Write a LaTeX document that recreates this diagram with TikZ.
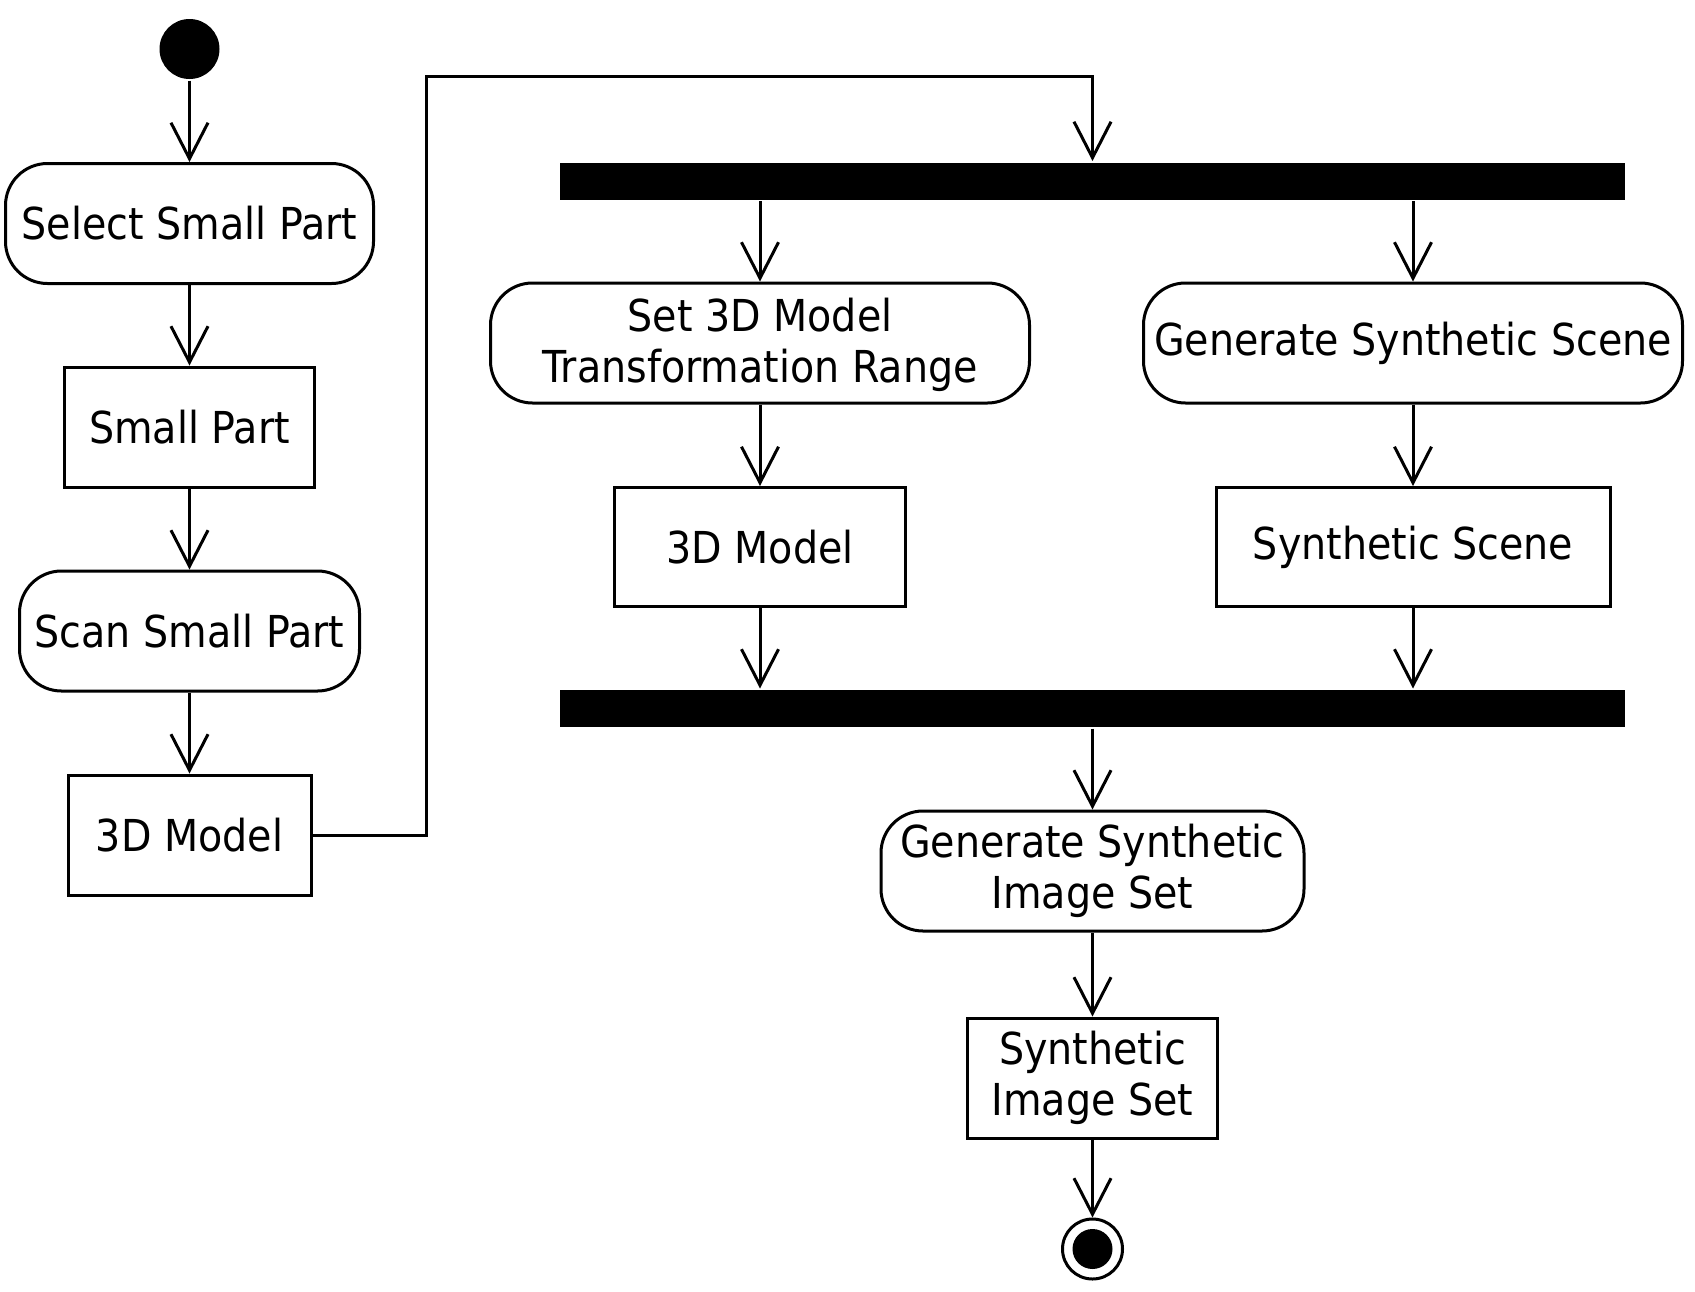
\documentclass[tikz,border=0pt]{standalone}
\usepackage{fontspec}
\setmainfont{DejaVu Sans}[FakeStretch=0.9]
\usetikzlibrary{arrows.meta,positioning}
\begin{document}
\begin{tikzpicture}[x=1pt,y=-1pt,
  line width=3pt,
  every node/.style={inner sep=0pt, font=\fontsize{44}{51}\selectfont, align=center},
  action/.style={draw, rounded corners=42pt, minimum height=120pt},
  objbox/.style={draw, rectangle, minimum height=120pt},
  bar/.style={fill=black, rectangle, minimum height=37pt, minimum width=1065pt},
  flow/.style={-{Straight Barb[length=36pt,width=37pt,line width=3pt]}}
]
\useasboundingbox (0,0) rectangle (1695,1291);
% nodes
\node[circle, fill=black, minimum size=60pt] (start) at (189.5,49) {};
\node[action, minimum width=368pt] (sel) at (189.5,223.5) {Select Small Part};
\node[objbox, minimum width=250pt] (sp) at (189.5,427) {Small Part};
\node[action, minimum width=340pt] (scan) at (189.5,631) {Scan Small Part};
\node[objbox, minimum width=243pt] (mA) at (189.5,835) {3D Model};
\node[bar] (fork) at (1092.5,181) {};
\node[action, minimum width=539pt, text depth=6pt] (setr) at (760,343) {Set 3D Model\\Transformation Range};
\node[action, minimum width=539pt] (gss) at (1413,343) {Generate Synthetic Scene};
\node[objbox, minimum width=291pt, minimum height=119pt] (mB) at (760,547) {3D Model};
\node[objbox, minimum width=394pt, minimum height=119pt] (ss) at (1413,547) {Synthetic Scene};
\node[bar] (join) at (1092.5,708.5) {};
\node[action, minimum width=423pt] (gsis) at (1092.5,871) {Generate Synthetic\\Image Set};
\node[objbox, minimum width=250pt] (sis) at (1092.5,1078) {Synthetic\\Image Set};
\node[circle, draw, minimum size=60pt] (fin) at (1092.5,1249) {};
\node[circle, fill=black, minimum size=40pt] (finin) at (fin.center) {};
\coordinate (c1) at (426,835);
\coordinate (c2) at (426,76);
\coordinate (c3) at (1092.5,76);
% flows
\draw[flow] (start) -- (sel.north);
\draw[flow] (sel.south) -- (sp.north);
\draw[flow] (sp.south) -- (scan.north);
\draw[flow] (scan.south) -- (mA.north);
\draw[flow] (mA.east) -- (c1) -- (c2) -- (c3) -- (fork.north);
\draw[flow] (fork.south -| setr.north) -- (setr.north);
\draw[flow] (fork.south -| gss.north) -- (gss.north);
\draw[flow] (setr.south) -- (mB.north);
\draw[flow] (gss.south) -- (ss.north);
\draw[flow] (mB.south) -- (mB.south |- join.north);
\draw[flow] (ss.south) -- (ss.south |- join.north);
\draw[flow] (join.south) -- (gsis.north);
\draw[flow] (gsis.south) -- (sis.north);
\draw[flow] (sis.south) -- (fin.north);
\end{tikzpicture}
\end{document}
